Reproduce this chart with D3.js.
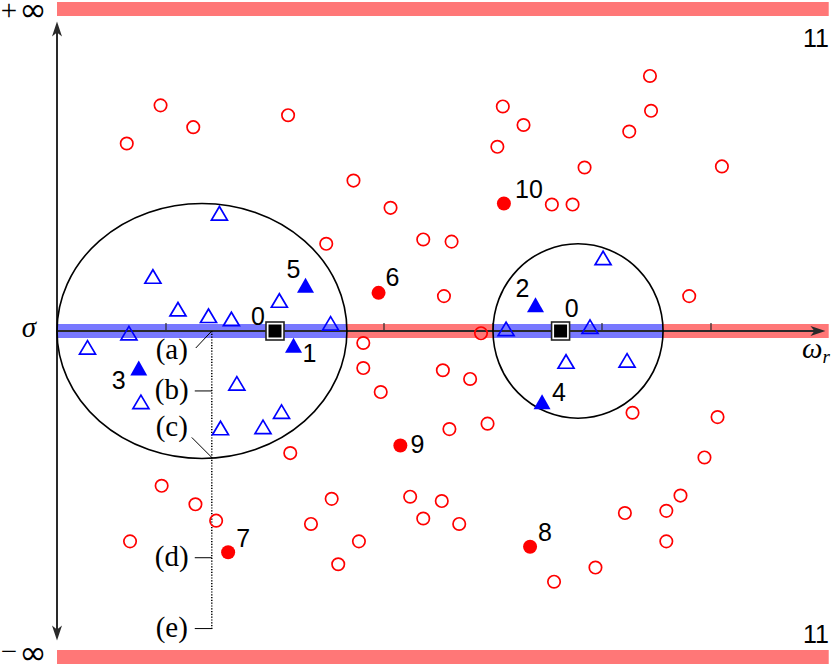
<!DOCTYPE html>
<html>
<head>
<meta charset="utf-8">
<script src="https://cdn.jsdelivr.net/npm/d3@7"></script>
<style>
  body { margin: 0; background: #fff; }
  svg { display: block; }
  .num { font-family: "Liberation Sans", Arial, sans-serif; font-size: 25px; fill: #000; }
  .tex { font-family: "Liberation Serif", "Times New Roman", serif; font-size: 29px; fill: #000; }
  .inf { font-family: "DejaVu Sans", sans-serif; font-size: 33px; fill: #000; }
</style>
</head>
<body>
<div id="chart"></div>
<script>
// Chart data (omega_r along x in tick units, sigma along y)

// open red circles
let openCircleX = [0.64, 0.95, 1.25, 2.12, 2.72, 3.06, 2.47, 3.36, 3.62, 3.55,
                   4.09, 4.28, 4.04, 4.84, 4.54, 4.73, 5.44, 5.45, 5.25, 6.10,
                   5.80, 3.89, 2.81, 2.81, 2.97, 3.54, 3.79, 3.60, 3.95, 5.28,
                   6.06, 5.94, 2.14, 0.96, 1.27, 1.46, 0.67, 2.52, 2.33, 2.77,
                   2.58, 3.24, 3.36, 3.53, 3.69, 5.72, 5.59, 5.21, 5.59, 4.94, 4.56];
let openCircleY = [1.72, 2.07, 1.87, 1.98, 1.38, 1.13, 0.80, 0.84, 0.82, 0.32,
                   2.06, 1.89, 1.69, 1.50, 1.16, 1.16, 2.34, 2.02, 1.83, 1.51,
                   0.32, -0.02, -0.11, -0.34, -0.56, -0.36, -0.44, -0.90, -0.85, -0.75,
                   -0.79, -1.16, -1.12, -1.42, -1.59, -1.74, -1.93, -1.54, -1.77, -1.93,
                   -2.14, -1.52, -1.72, -1.56, -1.77, -1.51, -1.65, -1.67, -1.93, -2.17, -2.30];

// numbered red dots
let redIds = ["6", "7", "8", "9", "10"];
let redX = [2.95, 1.57, 4.34, 3.15, 4.10];
let redY = [0.35, -2.03, -1.98, -1.05, 1.17];

// open blue triangles
let openTriX = [0.28, 0.66, 0.77, 0.88, 1.11, 1.39, 1.60, 1.49, 2.04, 2.51,
                1.65, 1.50, 1.89, 2.06, 4.12, 4.89, 4.67, 5.23, 5.01];
let openTriY = [-0.15, -0.02, -0.65, 0.50, 0.20, 0.14, 0.11, 1.08, 0.28, 0.07,
                -0.48, -0.89, -0.88, -0.74, 0.02, 0.04, -0.28, -0.27, 0.67];

// numbered blue triangles
let blueIds = ["1", "2", "3", "4", "5"];
let blueX = [2.17, 4.39, 0.75, 4.45, 2.28];
let blueY = [-0.13, 0.24, -0.34, -0.65, 0.42];

// cluster centres (squares)
let centerX = [2.00, 4.62];
let centerY = [0, 0];

// regions: centre and radii
let regionCx = [1.33, 4.78];
let regionRx = [1.33, 0.78];
let regionRy = [1.17, 0.80];

// omega_r ticks
let xTicks = [1, 2, 3, 4, 5, 6];

// dotted scan line and its marks
let scanX = 1.42;
let scanLabels = ["(a)", "(b)", "(c)", "(d)", "(e)"];
let scanSigma = [0, -0.55, -1.16, -2.08, -2.73];

let infLabel = "11";

// Layout
let width = 831;
let height = 664;

let x = d3.scaleLinear().domain([0, 7]).range([57, 820]);
let y = d3.scaleLinear().domain([-3, 3]).range([658, 4]);

let red = "#ff0000";
let blue = "#0000ff";
let bandRed = "#ff7777";
let bandBlue = "#7878ff";
let axisColor = "#2a2a2a";

let svg = d3.select("#chart")
    .append("svg")
    .attr("width", width)
    .attr("height", height);

// infinity bands
svg.append("rect")
    .attr("x", x(0)).attr("y", 2)
    .attr("width", x(7.08) - x(0)).attr("height", 14)
    .style("fill", bandRed);
svg.append("rect")
    .attr("x", x(0)).attr("y", 650)
    .attr("width", x(7.08) - x(0)).attr("height", 14)
    .style("fill", bandRed);

// +inf / -inf marks
svg.append("text").attr("class", "tex")
    .attr("x", 9).attr("y", 20).attr("text-anchor", "middle")
    .text("+");
svg.append("text").attr("class", "inf")
    .attr("x", 33).attr("y", 21).attr("text-anchor", "middle")
    .text("∞");
svg.append("text").attr("class", "tex")
    .attr("x", 9).attr("y", 661).attr("text-anchor", "middle")
    .text("−");
svg.append("text").attr("class", "inf")
    .attr("x", 33).attr("y", 664).attr("text-anchor", "middle")
    .text("∞");

svg.append("text").attr("class", "num")
    .attr("x", 829).attr("y", 47).attr("text-anchor", "end")
    .text(infLabel);
svg.append("text").attr("class", "num")
    .attr("x", 829).attr("y", 643).attr("text-anchor", "end")
    .text(infLabel);

// real axis band, blue where it's inside a region
svg.append("rect")
    .attr("x", x(0)).attr("y", y(0) - 7)
    .attr("width", x(7.08) - x(0)).attr("height", 14)
    .style("fill", bandRed);

svg.selectAll(".blueband")
    .data(regionCx)
    .enter().append("rect")
    .attr("class", "blueband")
    .attr("x", (d, i) => x(d - regionRx[i]))
    .attr("y", y(0) - 7)
    .attr("width", (d, i) => x(regionRx[i] * 2) - x(0))
    .attr("height", 14)
    .style("fill", bandBlue);

// horizontal axis with arrow
svg.append("line")
    .attr("x1", x(0)).attr("x2", x(7.0))
    .attr("y1", y(0)).attr("y2", y(0))
    .style("stroke", axisColor)
    .style("stroke-width", 2);
svg.append("path")
    .attr("d", `M${x(7.05)},${y(0)} L${x(7.05) - 15},${y(0) - 5} L${x(7.05) - 11},${y(0)} L${x(7.05) - 15},${y(0) + 5} Z`)
    .style("fill", axisColor);

// ticks
svg.selectAll(".tick")
    .data(xTicks)
    .enter().append("line")
    .attr("class", "tick")
    .attr("x1", d => x(d)).attr("x2", d => x(d))
    .attr("y1", y(0)).attr("y2", y(0) - 8)
    .style("stroke", axisColor)
    .style("stroke-width", 1.2);

// vertical axis with both arrows
let axisTop = y(2.84);
let axisBottom = y(-2.84);
svg.append("line")
    .attr("x1", x(0)).attr("x2", x(0))
    .attr("y1", axisTop + 6).attr("y2", axisBottom - 6)
    .style("stroke", axisColor)
    .style("stroke-width", 2);
svg.append("path")
    .attr("d", `M${x(0)},${axisTop} L${x(0) - 5},${axisTop + 15} L${x(0)},${axisTop + 11} L${x(0) + 5},${axisTop + 15} Z`)
    .style("fill", axisColor);
svg.append("path")
    .attr("d", `M${x(0)},${axisBottom} L${x(0) - 5},${axisBottom - 15} L${x(0)},${axisBottom - 11} L${x(0) + 5},${axisBottom - 15} Z`)
    .style("fill", axisColor);

// axis labels
svg.append("text").attr("class", "tex")
    .attr("x", 29).attr("y", y(0) + 6).attr("text-anchor", "middle")
    .style("font-style", "italic")
    .text("σ");
let wr = svg.append("text").attr("class", "tex")
    .attr("x", 802).attr("y", 358)
    .style("font-style", "italic");
wr.append("tspan").text("ω");
wr.append("tspan").attr("dy", 5).style("font-size", "19px").text("r");

// regions
svg.selectAll(".region")
    .data(regionCx)
    .enter().append("ellipse")
    .attr("class", "region")
    .attr("cx", d => x(d))
    .attr("cy", y(0))
    .attr("rx", (d, i) => x(regionRx[i]) - x(0))
    .attr("ry", (d, i) => y(0) - y(regionRy[i]))
    .style("fill", "none")
    .style("stroke", "#000")
    .style("stroke-width", 1.6);

// dotted scan line with labels
svg.append("line")
    .attr("x1", x(scanX)).attr("x2", x(scanX))
    .attr("y1", y(0)).attr("y2", y(scanSigma[4]) + 2)
    .style("stroke", "#000")
    .style("stroke-width", 1.5)
    .style("stroke-dasharray", "1.2,1.6");

// pointer from label to the line; (a) and (c) are slanted
scanLabels.forEach((lab, i) => {
    let px = x(scanX);
    let py = y(scanSigma[i]);
    let tx, ty, lx1, ly1;
    if (i === 0) {
        lx1 = px - 16; ly1 = py + 17; tx = px - 40; ty = py + 28;
    } else if (i === 2) {
        lx1 = px - 20; ly1 = py - 20; tx = px - 40; ty = py - 21;
    } else {
        lx1 = px - 17; ly1 = py; tx = px - 40; ty = py + 8;
    }
    svg.append("line")
        .attr("x1", lx1).attr("y1", ly1)
        .attr("x2", px).attr("y2", py)
        .style("stroke", "#000")
        .style("stroke-width", 1);
    svg.append("text").attr("class", "tex")
        .attr("x", tx).attr("y", ty)
        .attr("text-anchor", "middle")
        .text(lab);
});

// open red circles
svg.selectAll(".ocircle")
    .data(openCircleX)
    .enter().append("circle")
    .attr("class", "ocircle")
    .attr("cx", d => x(d))
    .attr("cy", (d, i) => y(openCircleY[i]))
    .attr("r", 6.2)
    .style("fill", "none")
    .style("stroke", red)
    .style("stroke-width", 1.7);

// triangle path centred on its bounding box
function tri(cx, cy, w, h) {
    return `M${cx},${cy - h / 2} L${cx + w / 2},${cy + h / 2} L${cx - w / 2},${cy + h / 2} Z`;
}

svg.selectAll(".otri")
    .data(openTriX)
    .enter().append("path")
    .attr("class", "otri")
    .attr("d", (d, i) => tri(x(d), y(openTriY[i]), 16, 13.5))
    .style("fill", "none")
    .style("stroke", blue)
    .style("stroke-width", 1.7)
    .style("stroke-linejoin", "miter");

// filled blue triangles
svg.selectAll(".ftri")
    .data(blueX)
    .enter().append("path")
    .attr("class", "ftri")
    .attr("d", (d, i) => tri(x(d), y(blueY[i]), 17, 15))
    .style("fill", blue);

// filled red dots
svg.selectAll(".fcircle")
    .data(redX)
    .enter().append("circle")
    .attr("class", "fcircle")
    .attr("cx", d => x(d))
    .attr("cy", (d, i) => y(redY[i]))
    .attr("r", 7)
    .style("fill", red);

// centre squares
svg.selectAll(".sq-out")
    .data(centerX)
    .enter().append("rect")
    .attr("class", "sq-out")
    .attr("x", d => x(d) - 9)
    .attr("y", (d, i) => y(centerY[i]) - 9)
    .attr("width", 18).attr("height", 18)
    .style("fill", "#fff")
    .style("stroke", "#222")
    .style("stroke-width", 1.6);
svg.selectAll(".sq-in")
    .data(centerX)
    .enter().append("rect")
    .attr("class", "sq-in")
    .attr("x", d => x(d) - 6.5)
    .attr("y", (d, i) => y(centerY[i]) - 6.5)
    .attr("width", 13).attr("height", 13)
    .style("fill", "#000");

// number labels (offsets in px)
let blueOff = { "1": [16, 8], "2": [-13, -17], "3": [-20, 12], "4": [17, -10], "5": [-12, -16] };
let redOff = { "6": [14, -16], "7": [15, -14], "8": [15, -15], "9": [17, -1], "10": [25, -14] };
let centerOff = [[-17, -15], [11, -23]];

function numLabel(px, py, t) {
    svg.append("text").attr("class", "num")
        .attr("x", px).attr("y", py)
        .attr("dy", "0.36em")
        .attr("text-anchor", "middle")
        .text(t);
}

blueIds.forEach((id, i) => numLabel(x(blueX[i]) + blueOff[id][0], y(blueY[i]) + blueOff[id][1], id));
redIds.forEach((id, i) => numLabel(x(redX[i]) + redOff[id][0], y(redY[i]) + redOff[id][1], id));
centerX.forEach((d, i) => numLabel(x(d) + centerOff[i][0], y(centerY[i]) + centerOff[i][1], "0"));
</script>
</body>
</html>
